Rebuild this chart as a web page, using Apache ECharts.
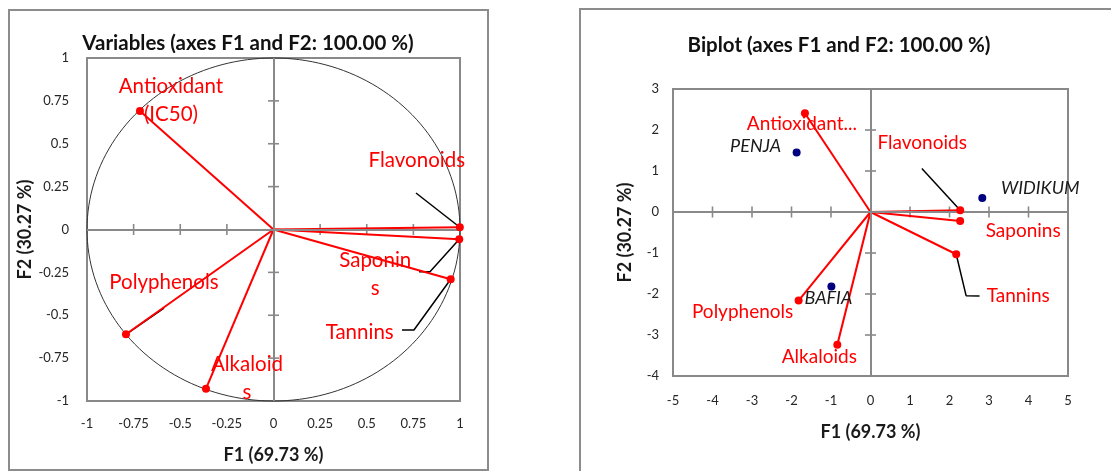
<!DOCTYPE html>
<html><head><meta charset="utf-8">
<script src="https://cdn.jsdelivr.net/npm/echarts@6/dist/echarts.min.js"></script>
<style>html,body{margin:0;padding:0;background:#fff}#c{width:1111px;height:471px}</style>
</head><body><div id="c"></div>
<script>
// ---------- DATA ----------
const variables = ['Antioxidant (IC50)', 'Flavonoids', 'Saponins', 'Tannins', 'Polyphenols', 'Alkaloids'];
const corLabels = ['Antioxidant\n(IC50)', 'Flavonoids', 'Saponin\ns', 'Tannins', 'Polyphenols', 'Alkaloid\ns'];
const corF1 = [-0.716, 0.999, 0.996, 0.950, -0.791, -0.362];
const corF2 = [0.691, 0.013, -0.057, -0.290, -0.611, -0.928];
const biLabels = ['Antioxidant...', 'Flavonoids', 'Saponins', 'Tannins', 'Polyphenols', 'Alkaloids'];
const biF1 = [-1.66, 2.27, 2.27, 2.17, -1.82, -0.84];
const biF2 = [2.41, 0.04, -0.22, -1.03, -2.16, -3.24];
const observations = ['PENJA', 'WIDIKUM', 'BAFIA'];
const obsF1 = [-1.87, 2.83, -0.99];
const obsF2 = [1.45, 0.34, -1.82];
// tick values on the zero axes
const corTicks = [-0.75, -0.5, -0.25, 0.25, 0.5, 0.75];
const biXTicks = [-4, -3, -2, -1, 1, 2, 3, 4];
const biYTicks = [-3, -2, -1, 1, 2];
// label connector lines (Excel leader lines), in axis units
const corLeaders = [
  [[0.764, 0.213], [0.999, 0.013]],
  [[0.780, -0.246], [0.839, -0.246], [0.996, -0.057]],
  [[0.689, -0.586], [0.753, -0.586], [0.950, -0.290]],
  [[-0.587, -0.458], [-0.791, -0.611]]
];
const biLeaders = [
  [[1.30, 1.06], [2.27, 0.04]],
  [[2.17, -1.03], [2.42, -2.04], [2.76, -2.05]]
];

// ---------- STYLE / LAYOUT ----------
const FONT = 'Lato';
const RED = '#ff0000';
const GRAY = '#898989';
const corOffsets = [[31, -11], [-43, -67], [-84, 35], [-91, 53], [38, -52], [41, -10]];
const biOffsets = [[-3, 11], [-38, -67], [63, 10], [62, 42], [-56, 11], [-18, 12]];
const obsOffsets = [[-41, -6], [58, -10], [-3, 12]];

const chart = echarts.init(document.getElementById('c'), null, {renderer: 'canvas'});

function labelAxis(gridIndex, min, max, interval, name, gap, isY, labelMargin, fs) {
  return {
    type: 'value', gridIndex, min, max, interval,
    position: isY ? 'left' : 'bottom',
    name, nameLocation: 'middle', nameGap: gap,
    nameTextStyle: {fontFamily: FONT, fontWeight: 'bold', fontSize: 18, color: '#1a1a1a'},
    axisLine: {show: false, onZero: false},
    axisTick: {show: false},
    splitLine: {show: false},
    axisLabel: {fontFamily: FONT, fontSize: fs, color: '#262626', margin: labelMargin}
  };
}

function tickSeries(xi, yi, data, isX) {
  return {
    type: 'scatter', xAxisIndex: xi, yAxisIndex: yi, silent: true, z: 2,
    symbol: 'rect', symbolSize: isX ? [1.6, 11] : [11, 1.6],
    itemStyle: {color: GRAY, opacity: 1},
    data: data.map(t => isX ? [t, 0] : [0, t])
  };
}

function zeroLines(xi, yi) {
  return {
    type: 'scatter', xAxisIndex: xi, yAxisIndex: yi, silent: true, data: [],
    markLine: {
      silent: true, symbol: 'none', label: {show: false}, animation: false,
      lineStyle: {color: GRAY, width: 2, type: 'solid'},
      data: [{xAxis: 0}, {yAxis: 0}]
    }
  };
}

function vectorSeries(xi, yi, f1, f2) {
  return {
    type: 'custom', xAxisIndex: xi, yAxisIndex: yi, silent: true, z: 4,
    encode: {x: 0, y: 1},
    data: f1.map((v, i) => [v, f2[i]]),
    renderItem: function (params, api) {
      const p0 = api.coord([0, 0]);
      const p1 = api.coord([api.value(0), api.value(1)]);
      return {type: 'line', shape: {x1: p0[0], y1: p0[1], x2: p1[0], y2: p1[1]},
        style: {stroke: RED, lineWidth: 2}};
    }
  };
}

function pointSeries(xi, yi, f1, f2, names, offsets, color, size, fs, italic, textColor) {
  return {
    type: 'scatter', xAxisIndex: xi, yAxisIndex: yi, silent: true, z: 5,
    symbol: 'circle', symbolSize: size,
    itemStyle: {color: color, opacity: 1},
    data: f1.map((v, i) => ({
      value: [v, f2[i]],
      label: {offset: offsets[i]}
    })),
    label: {
      show: true, position: 'inside', align: 'center', verticalAlign: 'middle',
      formatter: p => names[p.dataIndex],
      fontFamily: FONT, fontSize: fs, color: textColor,
      fontStyle: italic ? 'italic' : 'normal', lineHeight: Math.round(fs * 1.35)
    }
  };
}

function leaderSeries(xi, yi, lines) {
  return lines.map(pts => ({
    type: 'line', xAxisIndex: xi, yAxisIndex: yi, silent: true, z: 3,
    symbol: 'none', data: pts, animation: false,
    lineStyle: {color: '#000', width: 1.5}
  }));
}

const option = {
  animation: false,
  backgroundColor: '#fff',
  graphic: [
    {type: 'rect', shape: {x: 9, y: 10, width: 479, height: 460}, style: {fill: 'none', stroke: '#8c8c8c', lineWidth: 2}, z: 0},
    {type: 'rect', shape: {x: 580, y: 9, width: 540, height: 480}, style: {fill: 'none', stroke: '#8c8c8c', lineWidth: 2}, z: 0},
    {type: 'text', x: 248, y: 43, style: {text: 'Variables (axes F1 and F2: 100.00 %)', font: 'bold 20.5px ' + FONT, fill: '#111', textAlign: 'center', textVerticalAlign: 'middle'}},
    {type: 'text', x: 839, y: 45, style: {text: 'Biplot (axes F1 and F2: 100.00 %)', font: 'bold 20.5px ' + FONT, fill: '#111', textAlign: 'center', textVerticalAlign: 'middle'}}
  ],
  grid: [
    {left: 87, top: 58, width: 373, height: 343, show: true, borderColor: GRAY, borderWidth: 2, backgroundColor: 'transparent', outerBoundsMode: 'none'},
    {left: 673, top: 89, width: 395, height: 287, show: true, borderColor: GRAY, borderWidth: 2, backgroundColor: 'transparent', outerBoundsMode: 'none'}
  ],
  xAxis: [
    labelAxis(0, -1, 1, 0.25, 'F1 (69.73 %)', 45, false, 16, 13),
    labelAxis(1, -5, 5, 1, 'F1 (69.73 %)', 47, false, 18, 13)
  ],
  yAxis: [
    labelAxis(0, -1, 1, 0.25, 'F2 (30.27 %)', 53, true, 18, 13),
    labelAxis(1, -4, 3, 1, 'F2 (30.27 %)', 39, true, 14, 13)
  ],
  series: [
    zeroLines(0, 0),
    tickSeries(0, 0, corTicks, true),
    tickSeries(0, 0, corTicks, false),
    {
      type: 'custom', xAxisIndex: 0, yAxisIndex: 0, silent: true, z: 1,
      encode: {x: 0, y: 1}, data: [[0, 0]],
      renderItem: function (params, api) {
        const pts = [];
        for (let a = 0; a <= 360; a += 2) {
          const r = a * Math.PI / 180;
          pts.push(api.coord([Math.cos(r), Math.sin(r)]));
        }
        return {type: 'polyline', shape: {points: pts}, style: {stroke: '#333', fill: null, lineWidth: 1}};
      }
    },
    ...leaderSeries(0, 0, corLeaders),
    vectorSeries(0, 0, corF1, corF2),
    pointSeries(0, 0, corF1, corF2, corLabels, corOffsets, RED, 8, 20.5, false, RED),

    zeroLines(1, 1),
    tickSeries(1, 1, biXTicks, true),
    tickSeries(1, 1, biYTicks, false),
    ...leaderSeries(1, 1, biLeaders),
    vectorSeries(1, 1, biF1, biF2),
    pointSeries(1, 1, biF1, biF2, biLabels, biOffsets, RED, 8, 19, false, RED),
    pointSeries(1, 1, obsF1, obsF2, observations, obsOffsets, '#000080', 8, 18, true, '#1a1a1a')
  ]
};
chart.setOption(option);
</script>
</body></html>
